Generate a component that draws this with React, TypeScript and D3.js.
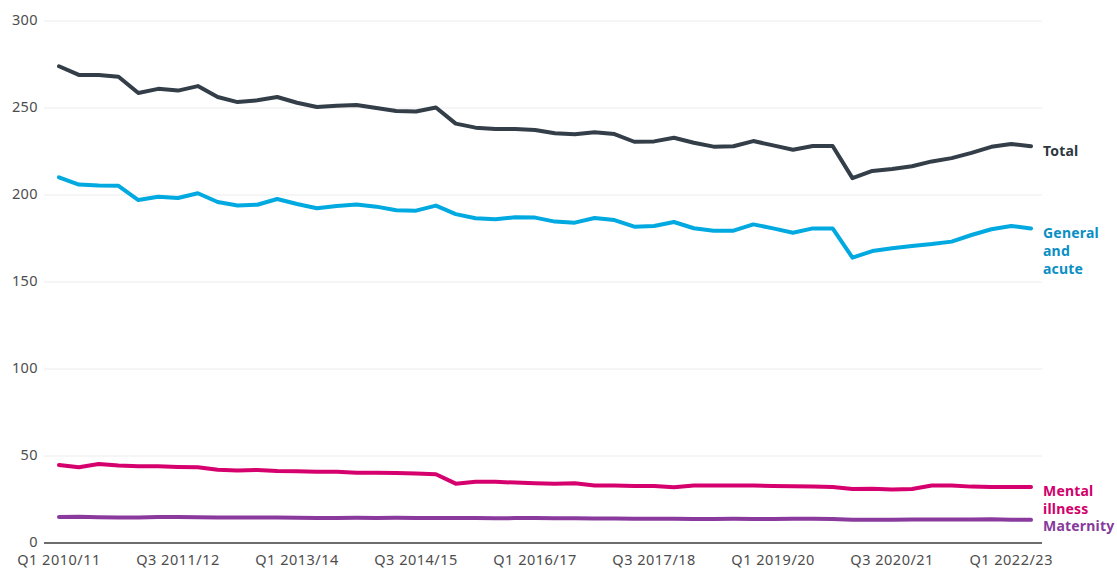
import React from 'react';
import * as d3 from 'd3';

// quarters Q1 2010/11 .. Q2 2022/23
const quarters = [
  'Q1 2010/11', 'Q2 2010/11', 'Q3 2010/11', 'Q4 2010/11',
  'Q1 2011/12', 'Q2 2011/12', 'Q3 2011/12', 'Q4 2011/12',
  'Q1 2012/13', 'Q2 2012/13', 'Q3 2012/13', 'Q4 2012/13',
  'Q1 2013/14', 'Q2 2013/14', 'Q3 2013/14', 'Q4 2013/14',
  'Q1 2014/15', 'Q2 2014/15', 'Q3 2014/15', 'Q4 2014/15',
  'Q1 2015/16', 'Q2 2015/16', 'Q3 2015/16', 'Q4 2015/16',
  'Q1 2016/17', 'Q2 2016/17', 'Q3 2016/17', 'Q4 2016/17',
  'Q1 2017/18', 'Q2 2017/18', 'Q3 2017/18', 'Q4 2017/18',
  'Q1 2018/19', 'Q2 2018/19', 'Q3 2018/19', 'Q4 2018/19',
  'Q1 2019/20', 'Q2 2019/20', 'Q3 2019/20', 'Q4 2019/20',
  'Q1 2020/21', 'Q2 2020/21', 'Q3 2020/21', 'Q4 2020/21',
  'Q1 2021/22', 'Q2 2021/22', 'Q3 2021/22', 'Q4 2021/22',
  'Q1 2022/23', 'Q2 2022/23',
];

const xTicks = ['Q1 2010/11', 'Q3 2011/12', 'Q1 2013/14', 'Q3 2014/15', 'Q1 2016/17',
  'Q3 2017/18', 'Q1 2019/20', 'Q3 2020/21', 'Q1 2022/23'];
const yTicks = [0, 50, 100, 150, 200, 250, 300];

const total = [
  274, 269, 269, 268, 258.6, 261, 260, 262.6, 256.3, 253.4,
  254.4, 256.3, 253, 250.6, 251.3, 251.7, 250, 248.3, 248, 250.3,
  241, 238.7, 238, 238, 237.4, 235.5, 234.9, 236, 235, 230.6,
  230.8, 232.9, 230, 227.8, 228, 231, 228.5, 226, 228.2, 228.2,
  209.7, 213.8, 215, 216.5, 219.3, 221.2, 224.2, 227.7, 229.3, 228,
];
const generalAcute = [
  210.2, 206, 205.4, 205.3, 197.1, 199, 198.3, 201, 196, 194,
  194.4, 197.7, 194.8, 192.4, 193.7, 194.6, 193.3, 191.2, 191, 193.9,
  189, 186.6, 186, 187.2, 187, 184.7, 184.1, 186.8, 185.6, 181.8,
  182.2, 184.5, 180.9, 179.5, 179.5, 183.1, 180.8, 178.3, 180.8, 180.8,
  164, 167.8, 169.4, 170.7, 171.8, 173.2, 177, 180.3, 182.2, 180.8,
];
const mentalIllness = [
  44.8, 43.5, 45.4, 44.6, 44.1, 44.1, 43.7, 43.5, 42.1, 41.6,
  42, 41.4, 41.2, 41, 41, 40.4, 40.4, 40.2, 40, 39.5,
  34.1, 35.2, 35.2, 34.7, 34.3, 34.1, 34.3, 33.1, 33, 32.8,
  32.8, 32, 33, 33, 33.1, 33, 32.8, 32.6, 32.4, 32.2,
  31, 31.2, 30.8, 31, 33, 33, 32.4, 32.2, 32.2, 32.2,
];
const maternity = [
  15, 15.1, 14.8, 14.7, 14.7, 14.9, 14.9, 14.8, 14.7, 14.6,
  14.7, 14.6, 14.5, 14.4, 14.4, 14.5, 14.4, 14.5, 14.4, 14.4,
  14.4, 14.3, 14.2, 14.3, 14.3, 14.2, 14.2, 14.1, 14.1, 14.0,
  14.0, 13.9, 13.8, 13.8, 13.9, 13.8, 13.8, 13.9, 13.9, 13.8,
  13.3, 13.3, 13.3, 13.5, 13.5, 13.5, 13.5, 13.6, 13.4, 13.3,
];

const series = [
  { name: ['Total'], values: total, color: '#333e48', text: '#2e3841', off: 10 },
  { name: ['General', 'and', 'acute'], values: generalAcute, color: '#00a9e0', text: '#0a8fc4', off: 10 },
  { name: ['Mental', 'illness'], values: mentalIllness, color: '#d5006d', text: '#d1006b', off: 9 },
  { name: ['Maternity'], values: maternity, color: '#8a3a9d', text: '#873a9c', off: 11 },
];

const W = 1117;
const H = 570;
const font = "'Noto Sans', 'Open Sans', sans-serif";

export default function App() {
  const x = d3.scalePoint<string>().domain(quarters).range([59, 1031]);
  const y = d3.scaleLinear().domain([0, 300]).range([543, 21]);
  const line = d3.line<number>()
    .x((_, i) => x(quarters[i]) as number)
    .y(d => y(d));

  return (
    <div style={{ position: 'absolute', left: 0, top: 0 }}>
      <svg width={W} height={H} style={{ display: 'block', background: '#fff' }}>
        {/* gridlines */}
        {yTicks.filter(t => t > 0).map(t => (
          <line key={t} x1={44} x2={1042} y1={y(t)} y2={y(t)} stroke="#ececec" strokeWidth={1} />
        ))}
        {yTicks.map(t => (
          <text key={'l' + t} x={38} y={y(t) + 4} textAnchor="end"
            fontFamily={font} fontSize={14.5} letterSpacing={0.4} fill="#4d4d4d">{t}</text>
        ))}
        <line x1={44} x2={1042} y1={y(0)} y2={y(0)} stroke="#3c3c3c" strokeWidth={1.5} />
        {xTicks.map(t => (
          <text key={t} x={x(t)} y={565} textAnchor="middle"
            fontFamily={font} fontSize={14.5} letterSpacing={0.5} fill="#4d4d4d">{t}</text>
        ))}

        {series.map(s => (
          <path key={s.name[0]} d={line(s.values) || ''} fill="none" stroke={s.color}
            strokeWidth={4} strokeLinejoin="round" strokeLinecap="round" />
        ))}

        {/* direct labels at line ends */}
        {series.map(s => {
          const last = s.values[s.values.length - 1];
          const ly = y(last) + s.off;
          return (
            <text key={'n' + s.name[0]} x={1043} y={ly} fontFamily={font} fontSize={14}
              fontWeight="bold" letterSpacing={0.2} fill={s.text}>
              {s.name.map((n, i) => (
                <tspan key={n} x={1043} dy={i === 0 ? 0 : 18}>{n}</tspan>
              ))}
            </text>
          );
        })}
      </svg>
    </div>
  );
}
